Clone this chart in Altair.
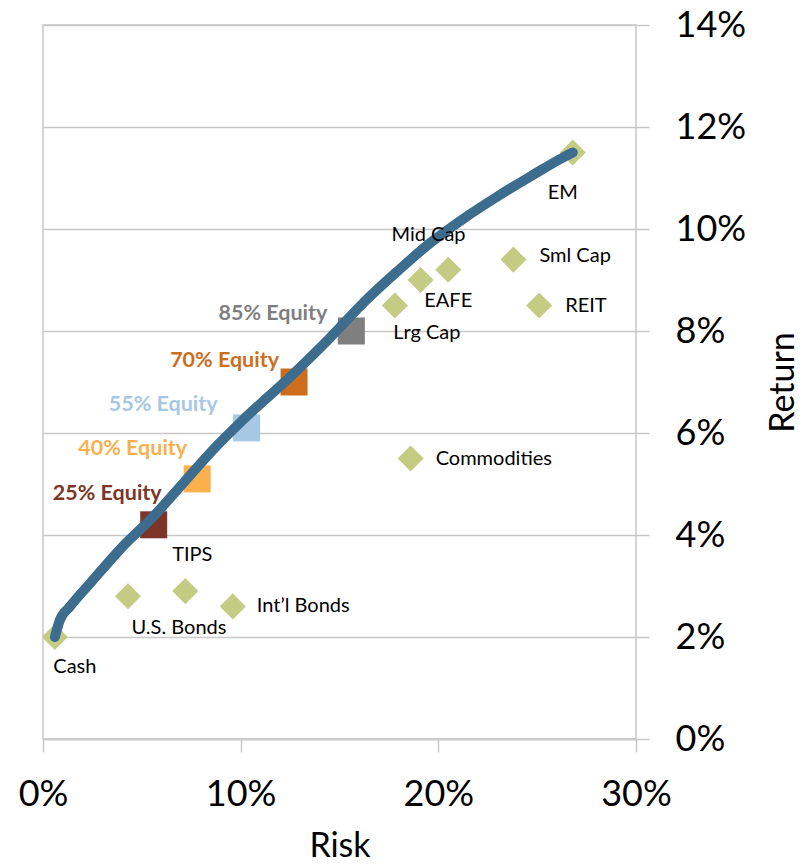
import altair as alt
import pandas as pd

# Asset classes: annualised risk and return (fractions)
assets = ["Cash", "U.S. Bonds", "TIPS", "Int\u2019l Bonds", "Commodities",
          "Lrg Cap", "Mid Cap", "EAFE", "Sml Cap", "REIT", "EM"]
asset_risk = [0.006, 0.043, 0.072, 0.096, 0.186, 0.178, 0.191, 0.205, 0.238, 0.251, 0.268]
asset_return = [0.020, 0.028, 0.029, 0.026, 0.055, 0.085, 0.090, 0.092, 0.094, 0.085, 0.115]

# Blended portfolios
portfolios = ["25% Equity", "40% Equity", "55% Equity", "70% Equity", "85% Equity"]
portfolio_risk = [0.056, 0.078, 0.103, 0.127, 0.156]
portfolio_return = [0.042, 0.051, 0.061, 0.070, 0.080]
portfolio_colors = ["#7D3527", "#FAB04D", "#A6C8E4", "#CC6E1D", "#7F7F7F"]

# Efficient frontier
frontier_risk = [0.006, 0.0085, 0.0135, 0.024, 0.040, 0.0555, 0.071, 0.086, 0.101,
                 0.125, 0.145, 0.162, 0.179, 0.196, 0.213, 0.230, 0.247, 0.263, 0.268]
frontier_return = [0.020, 0.0233, 0.0259, 0.0306, 0.0376, 0.0435, 0.0502, 0.0567, 0.0625,
                   0.071, 0.0786, 0.0855, 0.0916, 0.0973, 0.1021, 0.1064, 0.1104, 0.1140, 0.115]

FONT = "Lato"
GRID = "#C8C8C8"

assets_df = pd.DataFrame({"name": assets, "risk": asset_risk, "ret": asset_return})
port_df = pd.DataFrame({"name": portfolios, "risk": portfolio_risk, "ret": portfolio_return})
front_df = pd.DataFrame({"i": range(len(frontier_risk)), "risk": frontier_risk, "ret": frontier_return})

x_scale = alt.Scale(domain=[0, 0.30], nice=False, zero=False)
y_scale = alt.Scale(domain=[0, 0.14], nice=False, zero=False)

x_axis = alt.Axis(
    orient="bottom", values=[0, 0.1, 0.2, 0.3], format=".0%", grid=False,
    tickSize=13, tickColor=GRID, tickWidth=1.5, domainColor=GRID, domainWidth=1.5,
    labelFontSize=36, labelFont=FONT, labelColor="black", labelPadding=25,
    labelFlush=False, labelOverlap=False, labelBound=False,
    title="Risk", titleFont=FONT, titleFontSize=34, titleFontWeight="normal",
    titleColor="black", titleX=296.5, titleY=117, titleBaseline="alphabetic",
    titleAlign="center", titleAnchor="middle",
)
y_axis = alt.Axis(
    orient="right", values=[0, 0.02, 0.04, 0.06, 0.08, 0.10, 0.12, 0.14], format=".0%",
    grid=True, gridColor=GRID, gridWidth=1.5, domain=False,
    tickSize=13, tickColor=GRID, tickWidth=1.5,
    labelFontSize=36, labelFont=FONT, labelColor="black", labelPadding=26,
    labelAlign="left", labelBaseline="middle", labelFlush=False, labelOverlap=False,
    labelBound=False,
    title="Return", titleFont=FONT, titleFontSize=34, titleFontWeight="normal",
    titleColor="black", titleAngle=270, titleX=157, titleY=357,
    titleBaseline="alphabetic", titleAlign="center", titleAnchor="middle",
)

X = alt.X("risk:Q", scale=x_scale, axis=x_axis)
Y = alt.Y("ret:Q", scale=y_scale, axis=y_axis)
Xn = alt.X("risk:Q", scale=x_scale)
Yn = alt.Y("ret:Q", scale=y_scale)

diamonds = alt.Chart(assets_df).mark_point(
    shape="diamond", filled=True, size=680, color="#C4CC84", opacity=1
).encode(x=X, y=Y)

squares = alt.Chart(port_df).mark_point(
    shape="square", filled=True, size=729, opacity=1
).encode(
    x=Xn, y=Yn,
    color=alt.Color("name:N", scale=alt.Scale(domain=portfolios, range=portfolio_colors), legend=None),
)

frontier = alt.Chart(front_df).mark_line(
    color="#3D6D8E", strokeWidth=10, strokeCap="round", strokeJoin="round", interpolate="monotone"
).encode(x=Xn, y=Yn, order="i:Q")

# label placement: (align, dx, dy) in pixels from the marker
asset_label_pos = {
    "Cash": ("center", 20, 30),
    "U.S. Bonds": ("center", 51, 32),
    "TIPS": ("center", 7, -36),
    "Int\u2019l Bonds": ("left", 24, 0),
    "Commodities": ("left", 25, 0),
    "Lrg Cap": ("center", 32, 27),
    "Mid Cap": ("center", 8, -45),
    "EAFE": ("center", 0, 31),
    "Sml Cap": ("left", 26, -4),
    "REIT": ("left", 26, 0),
    "EM": ("center", -10, 40),
}
port_label_pos = {
    "25% Equity": (8, -31),
    "40% Equity": (-10, -30),
    "55% Equity": (-29, -23),
    "70% Equity": (-15, -21),
    "85% Equity": (-24, -17),
}

layers = [diamonds, squares, frontier]
for name, (align, dx, dy) in asset_label_pos.items():
    layers.append(
        alt.Chart(assets_df).transform_filter(alt.datum.name == name).mark_text(
            align=align, baseline="middle", dx=dx, dy=dy, font=FONT, fontSize=20, color="black"
        ).encode(x=Xn, y=Yn, text="name:N")
    )
for (name, (dx, dy)), col in zip(port_label_pos.items(), portfolio_colors):
    layers.append(
        alt.Chart(port_df).transform_filter(alt.datum.name == name).mark_text(
            align="right", baseline="middle", dx=dx, dy=dy, font=FONT, fontSize=21.5,
            fontWeight="bold", color=col
        ).encode(x=Xn, y=Yn, text="name:N")
    )

chart = alt.layer(*layers).properties(
    width=593, height=714,
    autosize=alt.AutoSizeParams(type="none"),
    padding={"left": 43, "top": 25, "right": 172, "bottom": 125},
    background="white",
).configure_view(stroke=GRID, strokeWidth=1.5)

chart.save("out.html", embed_options={"renderer": "svg", "actions": False})
